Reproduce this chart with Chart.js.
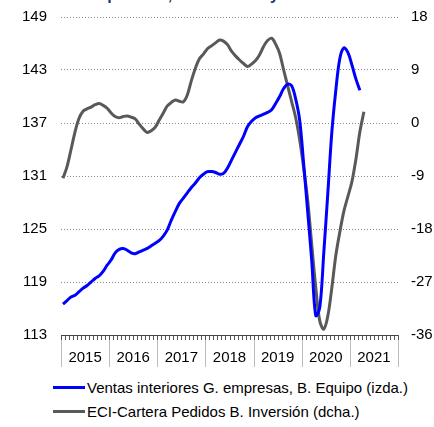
<!DOCTYPE html>
<html>
<head>
<meta charset="utf-8">
<script src="https://cdn.jsdelivr.net/npm/chart.js@4"></script>
<style>
  html, body { margin: 0; padding: 0; background: #fff; }
  body { width: 434px; height: 427px; position: relative; overflow: hidden;
         font-family: "Liberation Sans", Arial, sans-serif; }
  #title { position: absolute; left: 0; width: 452px; top: -13px; text-align: center;
           font-weight: bold; font-size: 16px; line-height: 16px; color: #1f3864; white-space: nowrap; }
  #wrap { position: absolute; left: 0; top: 0; width: 434px; height: 375px; }
  .leg { position: absolute; left: 53px; height: 20px; display: flex; align-items: center;
         font-size: 15px; color: #000; white-space: nowrap; }
  .leg i { display: inline-block; width: 32px; height: 3px; margin-right: 2px; }
</style>
</head>
<body>
<div id="title">respuestas, series en t/t y suavizadas</div>
<div id="wrap"><canvas id="chart"></canvas></div>
<div class="leg" style="top:377px"><i style="background:#0000ff"></i>Ventas interiores G. empresas, B. Equipo (izda.)</div>
<div class="leg" style="top:401px"><i style="background:#595959"></i>ECI-Cartera Pedidos B. Inversión (dcha.)</div>
<script>
// monthly categories, Jan 2015 .. Dec 2021
var years = ['2015', '2016', '2017', '2018', '2019', '2020', '2021'];
var months = [];
years.forEach(function (y) {
  for (var m = 1; m <= 12; m++) months.push(y + '-' + (m < 10 ? '0' + m : m));
});

// Ventas interiores grandes empresas, bienes de equipo (left axis)
var ventas = [
  116.5, 116.9, 117.3, 117.5, 117.9, 118.3, 118.6, 119.0, 119.4, 119.7, 120.2, 120.9,
  121.5, 122.3, 122.7, 122.8, 122.6, 122.3, 122.2, 122.4, 122.6, 122.8, 123.1, 123.4,
  123.7, 124.2, 124.9, 126.0, 127.0, 127.9, 128.5, 129.1, 129.7, 130.2, 130.8, 131.2,
  131.5, 131.5, 131.4, 131.2, 131.3, 131.9, 132.8, 133.7, 134.6, 135.5, 136.6, 137.2,
  137.6, 137.8, 138.0, 138.2, 138.5, 139.2, 140.0, 140.9, 141.4, 141.2, 139.7, 137.3,
  132.3, 126.9, 121.4, 115.2, 116.1, 122.3, 129.0, 135.9, 140.7, 144.3, 145.5, 145.0,
  143.6, 142.0, 140.7
];

// ECI cartera de pedidos bienes de inversion (right axis)
var eci = [
  -9.4, -7.4, -4.5, -1.5, 0.8, 2.0, 2.4, 2.7, 3.1, 3.3, 3.0, 2.5,
  1.7, 1.1, 0.9, 1.1, 1.2, 1.0, 0.7, -0.2, -1.0, -1.6, -1.3, -0.7,
  0.5, 1.7, 2.9, 3.5, 3.9, 3.7, 3.6, 4.8, 7.2, 9.3, 10.9, 11.7,
  12.6, 13.1, 13.6, 14.1, 13.9, 13.3, 12.2, 11.4, 10.7, 10.1, 9.6, 10.0,
  10.6, 11.6, 13.0, 14.0, 14.4, 13.4, 11.8, 9.0, 6.3, 3.6, 0.9, -2.9,
  -7.7, -13.2, -20.7, -27.9, -33.6, -35.0, -32.8, -28.0, -22.5, -18.5, -15.0, -12.5,
  -10.0, -6.2, -1.5, 1.9
];

var leftTicks = { min: 113, max: 149, step: 6 };
var rightTicks = { min: -36, max: 18, step: 9 };

Chart.defaults.font.family = "'Liberation Sans', Arial, sans-serif";
Chart.defaults.font.size = 15;
Chart.defaults.color = '#000';

// month ticks, year separators and year labels under the x axis
var yearAxis = {
  id: 'yearAxis',
  afterDraw: function (chart) {
    var ctx = chart.ctx, xs = chart.scales.x, area = chart.chartArea;
    var bottom = area.bottom;
    ctx.save();
    ctx.lineWidth = 1;
    ctx.strokeStyle = '#555';
    ctx.beginPath();
    for (var i = 0; i <= months.length; i++) {
      var px = Math.round(xs.getPixelForValue(i - 0.5)) + 0.5;
      ctx.moveTo(px, bottom);
      ctx.lineTo(px, bottom + 5);
    }
    ctx.stroke();

    ctx.strokeStyle = '#bbb';
    ctx.beginPath();
    for (var k = 0; k <= years.length; k++) {
      var sx = Math.round(xs.getPixelForValue(k * 12 - 0.5)) + 0.5;
      ctx.moveTo(sx, bottom + 5);
      ctx.lineTo(sx, bottom + 32);
    }
    ctx.stroke();

    ctx.strokeStyle = '#444';
    ctx.beginPath();
    ctx.moveTo(area.left, bottom + 0.5);
    ctx.lineTo(area.right, bottom + 0.5);
    ctx.stroke();

    ctx.fillStyle = '#000';
    ctx.font = "15px 'Liberation Sans', Arial, sans-serif";
    ctx.textAlign = 'center';
    ctx.textBaseline = 'middle';
    years.forEach(function (y, k) {
      ctx.fillText(y, xs.getPixelForValue(k * 12 + 5.5), bottom + 23);
    });
    ctx.restore();
  }
};

new Chart(document.getElementById('chart'), {
  type: 'line',
  data: {
    labels: months,
    datasets: [{
      label: 'Ventas interiores G. empresas, B. Equipo (izda.)',
      data: ventas,
      yAxisID: 'y',
      borderColor: '#0000ff',
      borderWidth: 3,
      pointRadius: 0,
      tension: 0.35,
      fill: false
    }, {
      label: 'ECI-Cartera Pedidos B. Inversión (dcha.)',
      data: eci,
      yAxisID: 'y1',
      borderColor: '#595959',
      borderWidth: 3,
      pointRadius: 0,
      tension: 0.35,
      fill: false
    }]
  },
  options: {
    responsive: true,
    maintainAspectRatio: false,
    animation: false,
    layout: { padding: { top: 17, left: 0, right: 0, bottom: 0 } },
    plugins: { legend: { display: false }, tooltip: { enabled: false } },
    scales: {
      x: {
        offset: true,
        grid: { display: false },
        border: { display: false },
        ticks: { display: false },
        afterFit: function (s) { s.height = 40; }
      },
      y: {
        position: 'left',
        min: leftTicks.min,
        max: leftTicks.max,
        ticks: { stepSize: leftTicks.step, padding: 0, color: '#000' },
        // invisible tick marks keep the labels 14px off the plot
        grid: { color: '#888', drawTicks: true, tickLength: 14, tickColor: 'rgba(0,0,0,0)' },
        border: { display: false, dash: [1, 2] },
        afterFit: function (s) { s.width = 61; }
      },
      y1: {
        position: 'right',
        min: rightTicks.min,
        max: rightTicks.max,
        ticks: { stepSize: rightTicks.step, padding: 0, color: '#000' },
        grid: { drawOnChartArea: false, drawTicks: true, tickLength: 13, tickColor: 'rgba(0,0,0,0)' },
        border: { display: false },
        afterFit: function (s) { s.width = 36; }
      }
    }
  },
  plugins: [yearAxis]
});
</script>
</body>
</html>
